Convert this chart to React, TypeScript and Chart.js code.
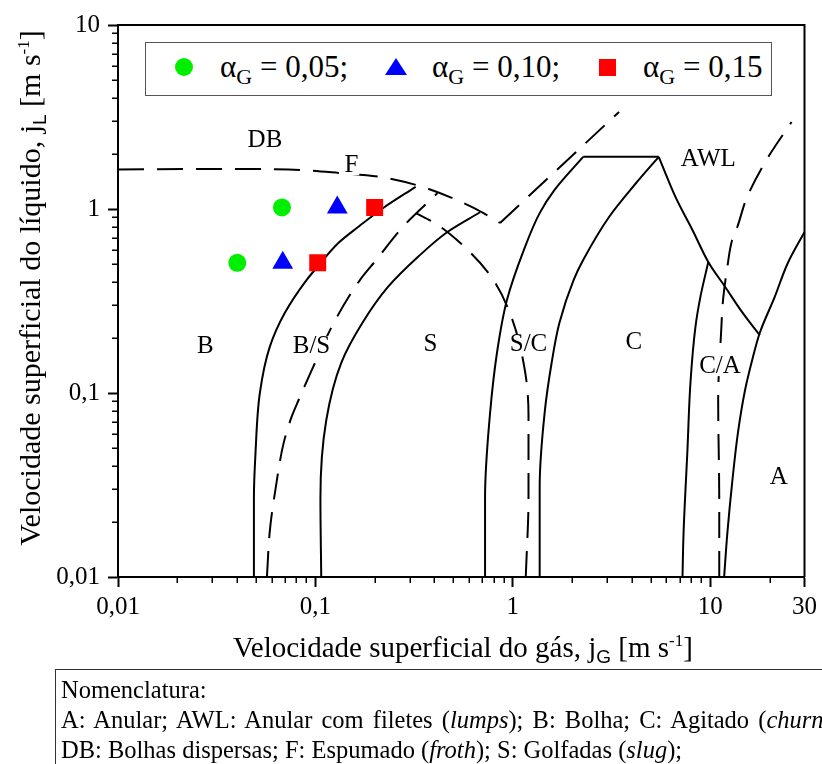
import { useEffect, useRef } from "react";
import { Chart, registerables } from "chart.js";

Chart.register(...registerables);

type Pt = [number, number];

const SERIF = "'Liberation Serif', 'Times New Roman', Times, serif";
const SANS = "'Liberation Sans', Arial, sans-serif";

// Axis ticks (jG and jL in m/s)
const X_MAJOR = [0.01, 0.1, 1, 10, 30];
const X_MAJOR_LABELS = ["0,01", "0,1", "1", "10", "30"];
const X_MINOR = [
  0.02, 0.03, 0.04, 0.05, 0.06, 0.07, 0.08, 0.09,
  0.2, 0.3, 0.4, 0.5, 0.6, 0.7, 0.8, 0.9,
  2, 3, 4, 5, 6, 7, 8, 9, 20,
];
const Y_MAJOR = [0.01, 0.1, 1, 10];
const Y_MAJOR_LABELS = ["0,01", "0,1", "1", "10"];
const Y_MINOR = [
  0.02, 0.03, 0.04, 0.05, 0.06, 0.07, 0.08, 0.09,
  0.2, 0.3, 0.4, 0.5, 0.6, 0.7, 0.8, 0.9,
  2, 3, 4, 5, 6, 7, 8, 9,
];

// Operating points for each void fraction: [jG, jL]
const ALPHA_LABELS = ["0,05", "0,10", "0,15"];
const alpha005: Pt[] = [[0.0402, 0.51], [0.0677, 1.02]];
const alpha010: Pt[] = [[0.0683, 0.51], [0.129, 1.02]];
const alpha015: Pt[] = [[0.1027, 0.51], [0.1995, 1.02]];

// Flow-pattern transition boundaries: [jG, jL]
const bubbleBoundary: Pt[] = [
  [0.0488, 0.01], [0.0488, 0.027], [0.0497, 0.047], [0.0523, 0.1], [0.0587, 0.178],
  [0.0699, 0.272], [0.0901, 0.411], [0.1023, 0.484], [0.1306, 0.653], [0.1644, 0.798],
  [0.2196, 1.01], [0.3218, 1.32],
];
const bubbleSlugDashed: Pt[] = [
  [0.0568, 0.01], [0.0588, 0.018], [0.063, 0.0308], [0.069, 0.0534], [0.0757, 0.0741],
  [0.0822, 0.0916], [0.0944, 0.1285], [0.126, 0.249], [0.168, 0.411], [0.203, 0.528],
  [0.283, 0.819], [0.415, 1.22],
];
const slugBoundary: Pt[] = [
  [0.107, 0.01], [0.106, 0.027], [0.1135, 0.0713], [0.135, 0.1455], [0.174, 0.243],
  [0.233, 0.377], [0.33, 0.548], [0.466, 0.75], [0.682, 0.96],
];
const dispersedBoundary: Pt[] = [
  [0.01, 1.64], [0.03, 1.65], [0.073, 1.64], [0.131, 1.57], [0.233, 1.47],
  [0.378, 1.28], [0.637, 1.01], [0.861, 0.84],
];
const dispersedRising: Pt[] = [[0.861, 0.84], [3.45, 3.37]];
const slugChurnDashed: Pt[] = [
  [1.162, 0.01], [1.2, 0.0272], [1.2, 0.0759], [1.15, 0.133], [0.966, 0.272],
  [0.765, 0.438], [0.542, 0.653], [0.401, 0.84], [0.322, 0.95],
];
const slugChurnLeft: Pt[] = [
  [0.723, 0.01], [0.723, 0.0272], [0.765, 0.0759], [0.832, 0.167], [0.933, 0.32],
  [1.136, 0.598], [1.367, 0.95], [1.626, 1.27], [2.27, 1.92],
];
const awlTop: Pt[] = [[2.27, 1.92], [5.48, 1.92]];
const churnBoundary: Pt[] = [
  [1.367, 0.01], [1.367, 0.0308], [1.448, 0.0778], [1.571, 0.1455], [1.72, 0.24],
  [2.03, 0.411], [2.27, 0.528], [3.07, 0.905], [4.2, 1.38], [5.48, 1.92],
];
const awlDescending: Pt[] = [
  [5.48, 1.92], [6.67, 1.16], [8.12, 0.769], [9.77, 0.515], [11.9, 0.377],
  [14.5, 0.275], [17.8, 0.206],
];
const churnAnnularLeft: Pt[] = [
  [7.23, 0.01], [7.32, 0.0173], [7.66, 0.049], [7.93, 0.113], [8.41, 0.229],
  [8.91, 0.333], [9.77, 0.515],
];
const churnAnnularDashed: Pt[] = [
  [11.1, 0.01], [11.1, 0.026], [10.96, 0.092], [11.36, 0.22], [11.6, 0.32],
  [12.2, 0.484], [12.9, 0.679], [13.7, 0.798], [15.3, 1.15], [19.5, 1.89], [25.8, 2.97],
];
const annularBoundary: Pt[] = [
  [11.75, 0.01], [12.2, 0.0173], [12.9, 0.0325], [13.8, 0.0607], [15.0, 0.1038],
  [16.3, 0.151], [17.8, 0.212], [21.2, 0.333], [24.7, 0.509], [30, 0.75],
];

// Flow-pattern region names and where they sit on the map
const REGION_NAMES = ["DB", "F", "AWL", "B", "B/S", "S", "S/C", "C", "C/A", "A"];
const REGION_JG = [0.0555, 0.152, 9.77, 0.0277, 0.0955, 0.383, 1.2, 4.1, 11.2, 22.2];
const REGION_JL = [2.37, 1.73, 1.85, 0.18, 0.18, 0.1845, 0.1845, 0.189, 0.14, 0.0349];

const near = (a: number, b: number) => Math.abs(Math.log10(a) - Math.log10(b)) < 1e-6;
const labelFor = (v: number, majors: number[], labels: string[]) => {
  const i = majors.findIndex((m) => near(m, v));
  return i >= 0 ? labels[i] : "";
};

const toXY = (pts: Pt[]) => pts.map(([x, y]) => ({ x, y }));

// axis: "y" = smooth along jL, "x" = smooth along jG, null = straight segments
const curve = (pts: Pt[], dashed: boolean, axis: "x" | "y" | null) => ({
  type: "line",
  data: toXY(pts),
  indexAxis: axis ?? "x",
  showLine: true,
  borderColor: "#000",
  borderWidth: 2,
  borderDash: dashed ? [26, 13] : [],
  borderJoinStyle: "miter",
  pointRadius: 0,
  pointHoverRadius: 0,
  cubicInterpolationMode: axis ? "monotone" : "default",
  tension: 0,
  fill: false,
  order: 1,
});

const markers = (pts: Pt[], style: string, radius: number, color: string) => ({
  type: "line",
  data: toXY(pts),
  showLine: false,
  pointStyle: style,
  pointRadius: radius,
  pointHoverRadius: radius,
  pointBackgroundColor: color,
  backgroundColor: color,
  borderColor: color,
  pointBorderWidth: 0,
  borderWidth: 0,
  order: 0,
});

const mapDecorations = {
  id: "mapDecorations",
  afterDraw(chart: any) {
    const { ctx, chartArea, scales } = chart;
    const { left, right, top, bottom } = chartArea;
    const x = scales.x;
    const y = scales.y;
    ctx.save();
    ctx.strokeStyle = "#000";
    ctx.lineWidth = 2;
    ctx.beginPath();
    ctx.moveTo(left, top);
    ctx.lineTo(right, top);
    ctx.lineTo(right, bottom);
    ctx.stroke();

    ctx.lineWidth = 1.5;
    ctx.beginPath();
    for (const v of X_MINOR) {
      const p = Math.round(x.getPixelForValue(v)) + 0.25;
      ctx.moveTo(p, bottom);
      ctx.lineTo(p, bottom + 6);
    }
    for (const v of Y_MINOR) {
      const p = Math.round(y.getPixelForValue(v)) + 0.25;
      ctx.moveTo(left, p);
      ctx.lineTo(left - 6, p);
    }
    ctx.stroke();

    ctx.font = `25px ${SERIF}`;
    ctx.textAlign = "center";
    ctx.textBaseline = "middle";
    REGION_NAMES.forEach((name, i) => {
      const px = x.getPixelForValue(REGION_JG[i]);
      const py = y.getPixelForValue(REGION_JL[i]);
      const w = ctx.measureText(name).width;
      ctx.fillStyle = "#fff";
      ctx.fillRect(px - w / 2 - 1, py - 10, w + 2, 20);
      ctx.fillStyle = "#000";
      ctx.fillText(name, px, py);
    });
    ctx.restore();
  },
};

const subSans = { fontFamily: SANS, fontSize: 19, position: "relative" as const, top: 6 };
const supText = { fontFamily: SERIF, fontSize: 17, position: "relative" as const, top: -11 };

export default function App() {
  const canvasRef = useRef<HTMLCanvasElement | null>(null);

  useEffect(() => {
    const canvas = canvasRef.current;
    if (!canvas) return;
    const tickFont = { family: SERIF, size: 25 };
    const chart = new Chart(canvas, {
      type: "line",
      data: {
        datasets: [
          markers(alpha005, "circle", 9, "#00ee00"),
          markers(alpha010, "triangle", 12, "#0000ff"),
          markers(alpha015, "rect", 12, "#ff0000"),
          curve(bubbleBoundary, false, "y"),
          curve(bubbleSlugDashed, true, "y"),
          curve(slugBoundary, false, "y"),
          curve(dispersedBoundary, true, "x"),
          curve(dispersedRising, true, null),
          curve(slugChurnDashed, true, "y"),
          curve(slugChurnLeft, false, "y"),
          curve(awlTop, false, null),
          curve(churnBoundary, false, "y"),
          curve(awlDescending, false, "x"),
          curve(churnAnnularLeft, false, "y"),
          curve(churnAnnularDashed, true, "y"),
          curve(annularBoundary, false, "y"),
        ] as any,
      },
      options: {
        responsive: false,
        animation: false,
        events: [],
        layout: { padding: { left: 0, right: 14, top: 25, bottom: 0 } },
        plugins: {
          legend: { display: false },
          tooltip: { enabled: false },
        },
        scales: {
          x: {
            type: "logarithmic",
            position: "bottom",
            min: 0.01,
            max: 30,
            afterBuildTicks: (s: any) => {
              s.ticks = X_MAJOR.map((v) => ({ value: v, major: true }));
            },
            afterFit: (s: any) => {
              s.height = 187;
            },
            ticks: {
              autoSkip: false,
              maxRotation: 0,
              minRotation: 0,
              padding: 5,
              color: "#000",
              font: tickFont,
              callback: (v: any) => labelFor(Number(v), X_MAJOR, X_MAJOR_LABELS),
            },
            grid: {
              drawOnChartArea: false,
              drawTicks: true,
              tickLength: 10,
              tickWidth: 2,
              tickColor: "#000",
            },
            border: { display: true, color: "#000", width: 2 },
          },
          y: {
            type: "logarithmic",
            position: "left",
            min: 0.01,
            max: 10,
            afterBuildTicks: (s: any) => {
              s.ticks = Y_MAJOR.map((v) => ({ value: v, major: true }));
            },
            afterFit: (s: any) => {
              s.width = 118;
            },
            ticks: {
              autoSkip: false,
              padding: 8,
              color: "#000",
              font: tickFont,
              callback: (v: any) => labelFor(Number(v), Y_MAJOR, Y_MAJOR_LABELS),
            },
            grid: {
              drawOnChartArea: false,
              drawTicks: true,
              tickLength: 10,
              tickWidth: 2,
              tickColor: "#000",
            },
            border: { display: true, color: "#000", width: 2 },
          },
        },
      } as any,
      plugins: [mapDecorations],
    });
    return () => chart.destroy();
  }, []);

  const legendText = (value: string, left: number, last: boolean) => (
    <span
      style={{
        position: "absolute",
        left,
        top: 51,
        fontFamily: SERIF,
        fontSize: 31,
        lineHeight: "31px",
        whiteSpace: "nowrap",
      }}
    >
      α<span style={{ fontFamily: SERIF, fontSize: 22, position: "relative", top: 7 }}>G</span> ={" "}
      {value}
      {last ? "" : ";"}
    </span>
  );

  return (
    <div
      style={{
        position: "absolute",
        left: 0,
        top: 0,
        width: 822,
        height: 764,
        overflow: "hidden",
        background: "#fff",
        fontFamily: SERIF,
        color: "#000",
      }}
    >
      <canvas
        ref={canvasRef}
        width={822}
        height={764}
        style={{ position: "absolute", left: 0, top: 0, width: 822, height: 764 }}
      />

      {/* legend */}
      <div
        style={{
          position: "absolute",
          left: 145,
          top: 42,
          width: 627,
          height: 54,
          boxSizing: "border-box",
          border: "1.5px solid #555",
          background: "#fff",
        }}
      />
      <svg
        width={822}
        height={110}
        style={{ position: "absolute", left: 0, top: 0, overflow: "visible" }}
      >
        <circle cx={184} cy={67} r={9} fill="#00ee00" />
        <polygon points="396,58 407,75 385,75" fill="#0000ff" />
        <rect x={599} y={59} width={17} height={17} fill="#ff0000" />
      </svg>
      {legendText(ALPHA_LABELS[0], 220, false)}
      {legendText(ALPHA_LABELS[1], 432, false)}
      {legendText(ALPHA_LABELS[2], 643, true)}

      {/* axis titles */}
      <div
        style={{
          position: "absolute",
          left: 63,
          top: 632,
          width: 800,
          textAlign: "center",
          fontFamily: SERIF,
          fontSize: 29,
          lineHeight: "30px",
          whiteSpace: "nowrap",
        }}
      >
        Velocidade superficial do gás, j<span style={subSans}>G</span> [m s
        <span style={supText}>-1</span>]
      </div>
      <div
        style={{
          position: "absolute",
          left: 30 - 300,
          top: 288 - 17,
          width: 600,
          height: 34,
          lineHeight: "34px",
          textAlign: "center",
          fontFamily: SERIF,
          fontSize: 30,
          whiteSpace: "nowrap",
          transform: "rotate(-90deg)",
        }}
      >
        Velocidade superficial do líquido, j<span style={subSans}>L</span> [m s
        <span style={supText}>-1</span>]
      </div>

      {/* nomenclature box */}
      <div
        style={{
          position: "absolute",
          left: 55,
          top: 669,
          width: 820,
          height: 120,
          borderTop: "1.5px solid #333",
          borderLeft: "1.5px solid #333",
        }}
      />
      <div
        style={{
          position: "absolute",
          left: 61,
          top: 675,
          fontFamily: SERIF,
          fontSize: 24.5,
          lineHeight: "30px",
          whiteSpace: "nowrap",
        }}
      >
        <div>Nomenclatura:</div>
        <div style={{ wordSpacing: 3 }}>
          A: Anular; AWL: Anular com filetes (<i>lumps</i>); B: Bolha; C: Agitado (<i>churn</i>);
        </div>
        <div>
          DB: Bolhas dispersas; F: Espumado (<i>froth</i>); S: Golfadas (<i>slug</i>);
        </div>
      </div>
    </div>
  );
}
